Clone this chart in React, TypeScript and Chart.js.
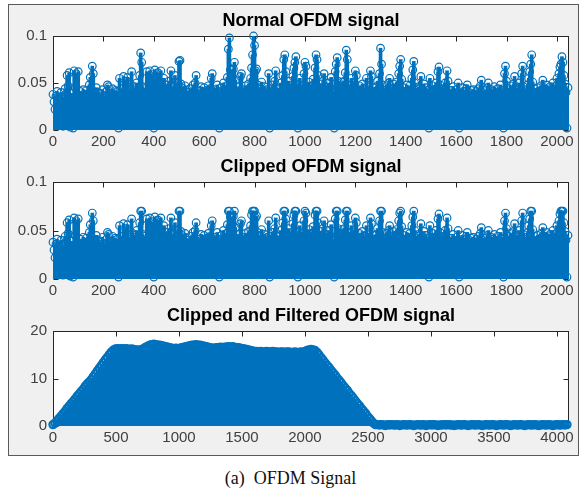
import React, { useEffect, useRef } from 'react';
import { Chart, registerables } from 'chart.js';

Chart.register(...registerables);

// ---------------------------------------------------------------------------
// Data
// ---------------------------------------------------------------------------

// |x[n]| of the OFDM symbol, one stored value per 4 samples, in units of 1e-3.
const NORMAL_SAMPLES_PER_VALUE = 4;

const normalSignalPart1 = [
  38, 30, 22, 36, 41, 18, 33, 27, 40, 35, 4, 29, 44, 37, 58, 47, 61, 3, 39, 28, 2, 63, 45, 60, 34, 62, 25, 41, 36, 19, 43, 31,
  35, 42, 27, 39, 48, 56, 44, 68, 60, 37, 29, 45, 24, 40, 33, 21, 38, 43, 30, 36, 26, 41, 48, 46, 32, 39, 17, 44, 28, 37, 42, 34,
  41, 2, 55, 36, 44, 29, 57, 40, 35, 52, 56, 31, 43, 38, 62, 47, 33, 45, 27, 50, 39, 42, 58, 82, 72, 46, 37, 44, 30, 62, 41, 35,
  63, 44, 38, 59, 2, 64, 42, 36, 61, 47, 33, 63, 40, 45, 55, 37, 29, 48, 43, 52, 39, 63, 46, 34, 41, 58, 36, 44, 50, 73, 74, 49,
];
const normalSignalPart2 = [
  45, 38, 31, 47, 42, 26, 40, 36, 44, 33, 39, 48, 35, 50, 58, 43, 30, 41, 37, 46, 28, 39, 45, 34, 42, 38, 47, 31, 44, 55, 60, 40,
  36, 43, 29, 48, 41, 2, 38, 45, 33, 50, 42, 37, 47, 56, 86, 98, 64, 44, 39, 65, 72, 53, 41, 35, 46, 40, 57, 60, 43, 31, 38, 47,
  42, 36, 49, 44, 55, 66, 80, 100, 90, 63, 65, 48, 39, 45, 34, 51, 41, 37, 46, 29, 43, 38, 60, 2, 44, 35, 48, 40, 52, 63, 45, 39,
  44, 37, 50, 41, 58, 75, 80, 62, 46, 39, 52, 43, 36, 48, 57, 66, 72, 78, 49, 2, 41, 55, 38, 47, 44, 60, 72, 68, 45, 39, 51, 42,
];
const normalSignalPart3 = [
  38, 47, 54, 43, 66, 80, 75, 58, 44, 37, 49, 41, 52, 60, 46, 35, 43, 50, 39, 45, 56, 41, 36, 2, 62, 70, 77, 52, 40, 46, 38, 51,
  44, 52, 61, 85, 75, 48, 39, 43, 55, 37, 46, 50, 63, 58, 41, 35, 47, 42, 38, 49, 33, 44, 40, 55, 46, 36, 43, 63, 57, 39, 45, 41,
  37, 46, 52, 44, 60, 87, 70, 48, 39, 42, 35, 47, 41, 50, 55, 38, 44, 36, 49, 43, 40, 51, 46, 60, 68, 75, 54, 39, 45, 41, 37, 48,
  42, 36, 47, 40, 55, 64, 73, 50, 38, 44, 35, 46, 41, 57, 43, 37, 49, 33, 45, 39, 42, 2, 55, 40, 36, 47, 43, 38, 50, 44, 62, 67,
];
const normalSignalPart4 = [
  48, 41, 35, 44, 39, 50, 45, 63, 52, 38, 33, 42, 36, 46, 40, 31, 43, 37, 50, 2, 39, 34, 45, 38, 41, 32, 44, 48, 36, 40, 29, 42,
  35, 43, 38, 30, 41, 36, 44, 33, 47, 53, 40, 34, 42, 37, 31, 45, 50, 39, 35, 43, 28, 41, 46, 38, 33, 44, 36, 40, 48, 37, 42, 2,
  60, 68, 52, 39, 44, 36, 47, 41, 35, 49, 57, 43, 38, 45, 33, 50, 42, 60, 68, 46, 37, 43, 39, 48, 55, 62, 70, 80, 51, 40, 44, 36,
  38, 45, 41, 35, 47, 42, 53, 39, 44, 36, 48, 40, 33, 46, 38, 43, 50, 37, 41, 47, 55, 44, 60, 67, 70, 78, 72, 58, 49, 40, 2, 45,
];

// Amplitude limit applied by the clipper.
const CLIP_LEVEL = 0.07;

// Magnitude after clipping and filtering, one stored value per 16 samples.
const SPECTRUM_SAMPLES_PER_VALUE = 16;

const spectrumRise = [
  0.3, 0.6, 1.1, 1.6, 2.1, 2.6, 3.1, 3.7, 4.2, 4.7, 5.2, 5.7, 6.3, 6.8, 7.3, 7.8,
  8.4, 8.9, 9.3, 9.8, 10.4, 11.0, 11.6, 12.2, 12.8, 13.4, 14.0, 14.5, 15.1, 15.6, 16.0,
];
const spectrumPlateau = [
  16.2, 16.3, 16.2, 16.3, 16.2, 16.3, 16.2, 16.1, 16.2, 16.1,
  16.0, 16.0, 15.9, 16.1, 16.3,
  16.6, 16.8, 17.0, 17.1, 17.2, 17.1, 17.0, 17.0, 16.9, 16.8,
  16.7, 16.6, 16.5, 16.4, 16.3, 16.4, 16.3,
  16.4, 16.5, 16.6, 16.7, 16.8, 16.9,
  17.0, 17.0, 17.1, 17.0, 17.0, 16.9, 16.8, 16.7, 16.6, 16.5,
  16.4, 16.4, 16.5, 16.5, 16.6, 16.5, 16.6, 16.6, 16.7,
  16.6, 16.7, 16.6, 16.5, 16.5, 16.4, 16.3, 16.2, 16.1,
  16.0, 15.9, 15.8, 15.7, 15.7, 15.6, 15.7, 15.6,
  15.6, 15.7, 15.6, 15.6, 15.7, 15.6, 15.6, 15.5, 15.6, 15.6, 15.5,
  15.6, 15.6, 15.5, 15.5, 15.6, 15.5, 15.5, 15.6, 15.5, 15.7,
  15.9, 16.0, 16.1, 16.0, 15.9,
];
const spectrumFall = [
  15.5, 15.0, 14.4, 13.9, 13.3, 12.8, 12.3, 11.7, 11.2, 10.7, 10.1, 9.6, 9.1, 8.5, 8.0,
  7.5, 6.9, 6.4, 5.9, 5.3, 4.8, 4.3, 3.7, 3.2, 2.7, 2.1, 1.6, 1.1, 0.6, 0.3,
];
const spectrumTail = [
  0.3, 0.2, 0.3, 0.2, 0.1, 0.3, 0.2, 0.3, 0.2, 0.2, 0.3, 0.1, 0.2, 0.3, 0.2, 0.2, 0.3, 0.2, 0.1,
  0.2, 0.3, 0.2, 0.2, 0.3, 0.1, 0.2, 0.3, 0.2, 0.3, 0.2, 0.1, 0.2, 0.2, 0.3, 0.2, 0.3, 0.2, 0.2,
  0.1, 0.2, 0.3, 0.2, 0.2, 0.3, 0.2, 0.1, 0.2, 0.3, 0.2, 0.2, 0.3, 0.2, 0.1, 0.2, 0.3, 0.2, 0.2,
  0.3, 0.2, 0.1, 0.2, 0.3, 0.2, 0.2, 0.3, 0.2, 0.1, 0.2, 0.3, 0.2, 0.2, 0.3, 0.2, 0.1, 0.2, 0.3,
  0.2, 0.2, 0.3, 0.2, 0.1, 0.2, 0.3, 0.2, 0.2, 0.3, 0.2, 0.1, 0.2, 0.3, 0.2, 0.2, 0.3, 0.2, 0.3,
];

// Axis ticks
const signalXTicks = [0, 200, 400, 600, 800, 1000, 1200, 1400, 1600, 1800, 2000];
const signalYTicks = [0, 0.05, 0.1];
const spectrumXTicks = [0, 500, 1000, 1500, 2000, 2500, 3000, 3500, 4000];
const spectrumYTicks = [0, 10, 20];

const SIGNAL_LENGTH = 2048;
const SPECTRUM_LENGTH = 4096;

const normalSignal = [
  ...normalSignalPart1,
  ...normalSignalPart2,
  ...normalSignalPart3,
  ...normalSignalPart4,
].map((v) => v / 1000);
const clippedSignal = normalSignal.map((v) => Math.min(v, CLIP_LEVEL));
const filteredSpectrum = [...spectrumRise, ...spectrumPlateau, ...spectrumFall, ...spectrumTail];

// ---------------------------------------------------------------------------
// Styling / layout
// ---------------------------------------------------------------------------

const STEM_BLUE = '#0072BD';
const AXIS_COLOR = '#262626';
const LABEL_COLOR = '#404040';
const SANS = '"Liberation Sans", Arial, Helvetica, sans-serif';
const PAGE_W = 581;
const AXIS_LEFT = 53;
const AXIS_RIGHT_PAD = 12;
const X_LABEL_BAND = 24;
const TITLE_SIZE = 18;
const TICK_SIZE = 15;

type Panel = {
  title: string;
  values: number[];
  step: number;
  xMax: number;
  xTicks: number[];
  yMax: number;
  yTicks: number[];
  top: number; // canvas top on the page
  areaTop: number; // plot box top on the page
  areaBottom: number; // plot box bottom on the page
  stemWidth: number;
  markerRadius: number;
  markerLine: number;
};

const panels: Panel[] = [
  {
    title: 'Normal OFDM signal',
    values: normalSignal,
    step: NORMAL_SAMPLES_PER_VALUE,
    xMax: SIGNAL_LENGTH,
    xTicks: signalXTicks,
    yMax: 0.1,
    yTicks: signalYTicks,
    top: 0,
    areaTop: 36,
    areaBottom: 130,
    stemWidth: 3,
    markerRadius: 3.8,
    markerLine: 1.2,
  },
  {
    title: 'Clipped OFDM signal',
    values: clippedSignal,
    step: NORMAL_SAMPLES_PER_VALUE,
    xMax: SIGNAL_LENGTH,
    xTicks: signalXTicks,
    yMax: 0.1,
    yTicks: signalYTicks,
    top: 148,
    areaTop: 182,
    areaBottom: 279,
    stemWidth: 3,
    markerRadius: 3.8,
    markerLine: 1.2,
  },
  {
    title: 'Clipped and Filtered OFDM signal',
    values: filteredSpectrum,
    step: SPECTRUM_SAMPLES_PER_VALUE,
    xMax: SPECTRUM_LENGTH,
    xTicks: spectrumXTicks,
    yMax: 20,
    yTicks: spectrumYTicks,
    top: 296,
    areaTop: 331,
    areaBottom: 426,
    stemWidth: 3,
    markerRadius: 3.6,
    markerLine: 2.2,
  },
];

const canvasHeight = (p: Panel) => p.areaBottom - p.top + X_LABEL_BAND;

// White plot box, outline and inward tick marks on all four sides.
const boxedAxes = {
  id: 'boxedAxes',
  beforeDraw(chart: any) {
    const { ctx, chartArea: a } = chart;
    ctx.save();
    ctx.fillStyle = '#ffffff';
    ctx.fillRect(a.left, a.top, a.right - a.left, a.bottom - a.top);
    ctx.restore();
  },
  beforeDatasetsDraw(chart: any) {
    const { ctx, chartArea: a, scales } = chart;
    const tick = 5;
    const L = Math.round(a.left) + 0.5;
    const R = Math.round(a.right) - 0.5;
    const T = Math.round(a.top) + 0.5;
    const B = Math.round(a.bottom) - 0.5;
    ctx.save();
    ctx.strokeStyle = AXIS_COLOR;
    ctx.lineWidth = 1;
    ctx.beginPath();
    scales.x.ticks.forEach((t: any) => {
      const px = Math.round(scales.x.getPixelForValue(t.value)) + 0.5;
      ctx.moveTo(px, B);
      ctx.lineTo(px, B - tick);
      ctx.moveTo(px, T);
      ctx.lineTo(px, T + tick);
    });
    scales.y.ticks.forEach((t: any) => {
      const py = Math.round(scales.y.getPixelForValue(t.value)) + 0.5;
      ctx.moveTo(L, py);
      ctx.lineTo(L + tick, py);
      ctx.moveTo(R, py);
      ctx.lineTo(R - tick, py);
    });
    ctx.stroke();
    ctx.strokeRect(L, T, R - L, B - T);
    ctx.restore();
  },
};

const formatTick = (v: number | string) => String(Number(Number(v).toFixed(3)));

function buildChart(canvas: HTMLCanvasElement, p: Panel) {
  const points = p.values.map((v, i) => ({ x: i * p.step, y: v }));
  const lineH = TITLE_SIZE * 1.2;
  const titleCenter = p.areaTop - 15 - p.top;
  const padTop = titleCenter - lineH / 2;
  const padBottom = p.areaTop - p.top - lineH - padTop;

  return new Chart(canvas, {
    type: 'bar',
    data: {
      datasets: [
        {
          type: 'bar',
          data: points,
          backgroundColor: STEM_BLUE,
          borderWidth: 0,
          barThickness: p.stemWidth,
          grouped: false,
          order: 2,
        } as any,
        {
          type: 'scatter',
          data: points,
          showLine: false,
          pointStyle: 'circle',
          pointRadius: p.markerRadius,
          pointBorderWidth: p.markerLine,
          pointBorderColor: STEM_BLUE,
          pointBackgroundColor: 'rgba(0,0,0,0)',
          clip: false,
          order: 1,
        } as any,
      ],
    },
    options: {
      animation: false,
      responsive: false,
      maintainAspectRatio: false,
      events: [],
      layout: {
        autoPadding: false,
        padding: { left: 0, right: AXIS_RIGHT_PAD, top: 0, bottom: 0 },
      },
      plugins: {
        legend: { display: false },
        tooltip: { enabled: false },
        title: {
          display: true,
          text: p.title,
          fullSize: false,
          color: '#000000',
          font: { family: SANS, size: TITLE_SIZE, weight: 'bold' },
          padding: { top: padTop, bottom: padBottom },
        },
      },
      scales: {
        x: {
          type: 'linear',
          min: 0,
          max: p.xMax,
          offset: false,
          grid: { display: false, drawTicks: false },
          border: { display: false },
          afterBuildTicks: (s: any) => {
            s.ticks = p.xTicks.map((value) => ({ value }));
          },
          afterFit: (s: any) => {
            s.height = X_LABEL_BAND;
          },
          ticks: {
            padding: 3,
            color: LABEL_COLOR,
            font: { family: SANS, size: TICK_SIZE },
            maxRotation: 0,
            autoSkip: false,
            callback: (v: any) => formatTick(v),
          },
        },
        y: {
          type: 'linear',
          min: 0,
          max: p.yMax,
          grid: { display: false, drawTicks: false },
          border: { display: false },
          afterBuildTicks: (s: any) => {
            s.ticks = p.yTicks.map((value) => ({ value }));
          },
          afterFit: (s: any) => {
            s.width = AXIS_LEFT;
          },
          ticks: {
            padding: 6,
            color: LABEL_COLOR,
            font: { family: SANS, size: TICK_SIZE },
            autoSkip: false,
            callback: (v: any) => formatTick(v),
          },
        },
      },
    } as any,
    plugins: [boxedAxes],
  });
}

export default function App() {
  const ref0 = useRef<HTMLCanvasElement>(null);
  const ref1 = useRef<HTMLCanvasElement>(null);
  const ref2 = useRef<HTMLCanvasElement>(null);
  const refs = [ref0, ref1, ref2];

  useEffect(() => {
    const charts = panels.map((p, i) => buildChart(refs[i].current as HTMLCanvasElement, p));
    return () => charts.forEach((c) => c.destroy());
  }, []);

  return (
    <div
      style={{
        position: 'fixed',
        left: 0,
        top: 0,
        width: PAGE_W,
        height: 491,
        background: '#ffffff',
        overflow: 'hidden',
      }}
    >
      <div
        style={{
          position: 'absolute',
          left: 8,
          top: 4,
          width: 571,
          height: 452,
          boxSizing: 'border-box',
          border: '1px solid #5a5a5a',
          background: '#f0f0f0',
        }}
      />
      {panels.map((p, i) => (
        <canvas
          key={p.title}
          ref={refs[i]}
          width={PAGE_W}
          height={canvasHeight(p)}
          style={{
            position: 'absolute',
            left: 0,
            top: p.top,
            width: PAGE_W,
            height: canvasHeight(p),
          }}
        />
      ))}
      <div
        style={{
          position: 'absolute',
          left: 0,
          top: 468,
          width: PAGE_W,
          textAlign: 'center',
          fontFamily: '"Liberation Serif", "Times New Roman", serif',
          fontSize: 18,
          lineHeight: '20px',
          color: '#111111',
          whiteSpace: 'pre',
        }}
      >
        {'(a)  OFDM Signal'}
      </div>
    </div>
  );
}
